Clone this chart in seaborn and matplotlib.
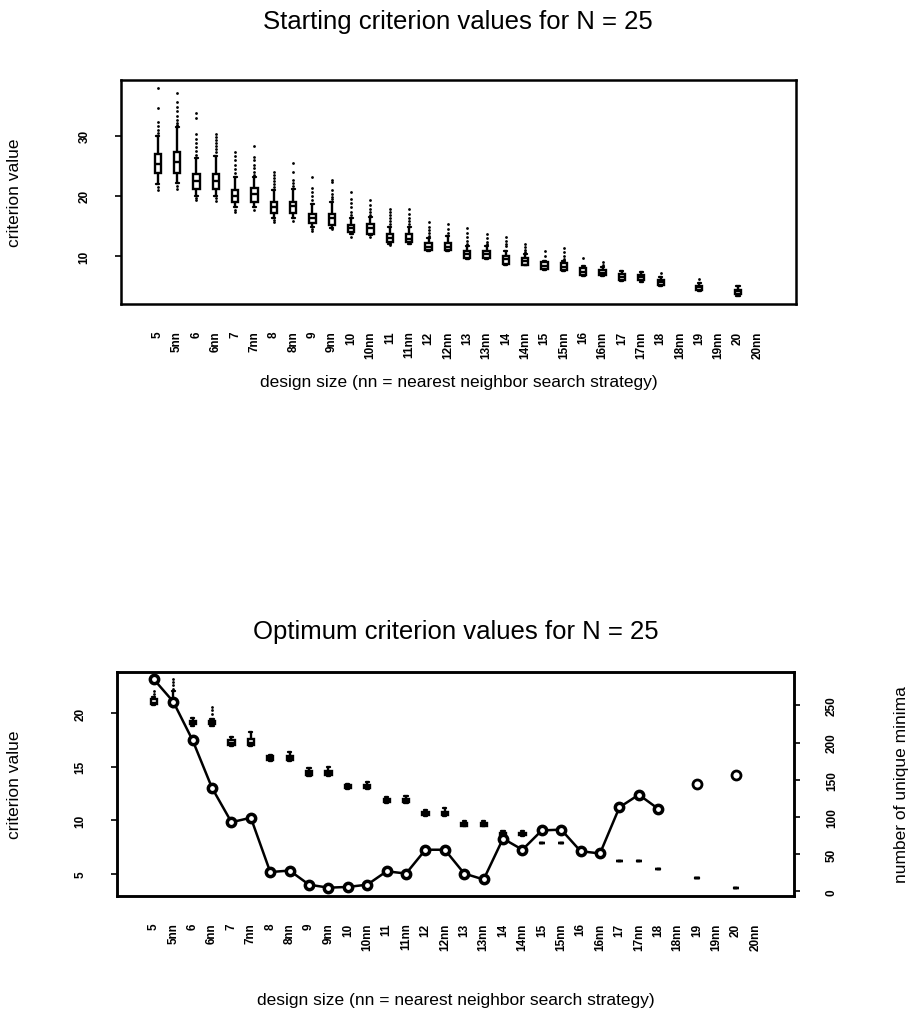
import matplotlib
matplotlib.use("Agg")
import matplotlib.pyplot as plt
import pandas as pd
import seaborn as sns

# x categories: design size, plain and nearest-neighbour ("nn") search
labels = ["5", "5nn", "6", "6nn", "7", "7nn", "8", "8nn", "9", "9nn",
          "10", "10nn", "11", "11nn", "12", "12nn", "13", "13nn", "14", "14nn",
          "15", "15nn", "16", "16nn", "17", "17nn", "18", "18nn", "19", "19nn",
          "20", "20nn"]

# ---- starting criterion values (five-number summaries + outliers)
start_cats = ["5", "5nn", "6", "6nn", "7", "7nn", "8", "8nn", "9", "9nn",
              "10", "10nn", "11", "11nn", "12", "12nn", "13", "13nn", "14", "14nn",
              "15", "15nn", "16", "16nn", "17", "17nn", "18", "19", "20"]
start_lo = [22.0, 22.2, 20.0, 20.05, 18.1, 18.1, 16.35, 16.3, 14.8, 14.7,
            13.7, 13.5, 12.0, 12.0, 10.8, 10.8, 9.6, 9.6, 8.6, 8.5,
            7.7, 7.6, 6.7, 6.7, 5.9, 5.8, 5.1, 4.3, 3.5]
start_q1 = [23.8, 23.8, 21.2, 21.2, 19.0, 19.05, 17.2, 17.2, 15.5, 15.2,
            14.0, 13.7, 12.3, 12.3, 11.0, 11.0, 9.8, 9.8, 8.8, 8.6,
            7.9, 7.8, 6.9, 6.9, 6.1, 6.0, 5.3, 4.5, 3.8]
start_med = [25.3, 25.6, 22.5, 22.5, 20.05, 20.3, 18.1, 18.3, 16.35, 16.3,
             14.7, 14.7, 13.0, 12.9, 11.6, 11.6, 10.4, 10.4, 9.5, 9.2,
             8.4, 8.3, 7.4, 7.3, 6.5, 6.5, 5.7, 4.85, 4.2]
start_q3 = [26.9, 27.2, 23.6, 23.7, 21.05, 21.3, 18.95, 19.05, 17.0, 17.0,
            15.2, 15.35, 13.7, 13.7, 12.2, 12.2, 10.9, 10.9, 10.1, 9.8,
            9.0, 8.9, 8.0, 7.7, 7.0, 6.9, 6.0, 5.1, 4.5]
start_hi = [30.0, 31.4, 26.3, 26.6, 23.1, 23.1, 20.9, 21.2, 18.7, 18.95,
            16.3, 16.5, 14.8, 14.8, 13.0, 13.3, 11.75, 11.75, 10.9, 10.4,
            9.3, 9.3, 8.35, 8.2, 7.6, 7.45, 6.5, 5.5, 5.1]
start_out = [
    [37.9, 34.5, 32.2, 31.6, 31.0, 30.5, 21.5, 21.0],
    [37.1, 35.5, 34.8, 34.0, 33.3, 32.6, 32.0, 31.8, 21.7, 21.2],
    [33.7, 32.9, 30.3, 29.5, 28.8, 28.1, 27.4, 26.8, 19.7, 19.4],
    [30.3, 29.8, 29.3, 28.8, 28.3, 27.8, 27.3, 19.6, 19.2],
    [27.3, 26.6, 25.9, 25.2, 24.5, 23.8, 17.7, 17.3],
    [28.2, 26.5, 25.9, 25.2, 24.6, 24.0, 23.5, 17.6],
    [23.9, 23.4, 22.9, 22.4, 21.9, 21.4, 16.0, 15.7],
    [25.4, 23.9, 22.7, 22.1, 21.6, 15.9],
    [23.1, 21.3, 20.6, 20.0, 19.4, 14.5, 14.25],
    [22.7, 22.3, 20.9, 20.4, 19.9, 19.5, 14.5],
    [20.6, 19.5, 18.8, 18.1, 17.4, 16.8, 13.15],
    [19.3, 18.5, 17.9, 17.3, 16.8, 13.15],
    [17.85, 17.4, 16.9, 16.4, 15.9, 15.4, 11.9],
    [17.85, 17.0, 16.3, 15.8, 15.35],
    [15.6, 14.9, 14.3, 13.8, 13.4],
    [15.35, 14.6, 13.9],
    [14.65, 13.9, 13.2, 12.5, 12.0],
    [13.7, 13.0, 12.3, 12.0],
    [13.15, 12.6, 12.1, 11.75],
    [12.0, 11.5, 11.0, 10.7],
    [10.9, 10.0],
    [11.3, 10.7, 10.1, 9.55],
    [9.7],
    [9.0, 8.6],
    [],
    [],
    [7.2],
    [6.25],
    [],
]

# ---- optimum criterion values (five-number summaries + outliers)
opt_cats = start_cats
opt_lo = [20.8, 20.6, 18.85, 18.8, 16.9, 16.9, 15.5, 15.5, 14.1, 14.1,
          12.9, 12.9, 11.6, 11.6, 10.4, 10.4, 9.45, 9.45, 8.5, 8.5,
          7.9, 7.9, 7.1, 6.9, 6.2, 6.2, 5.4, 4.6, 3.7]
opt_q1 = [20.9, 20.8, 18.95, 18.95, 17.0, 17.0, 15.6, 15.6, 14.2, 14.2,
          13.0, 13.0, 11.7, 11.7, 10.5, 10.5, 9.5, 9.5, 8.6, 8.6,
          7.9, 7.9, 7.1, 6.9, 6.2, 6.2, 5.4, 4.6, 3.7]
opt_med = [21.0, 21.0, 19.1, 19.1, 17.2, 17.2, 15.8, 15.8, 14.4, 14.4,
           13.1, 13.1, 11.9, 11.9, 10.6, 10.6, 9.6, 9.6, 8.7, 8.7,
           7.9, 7.9, 7.1, 6.9, 6.2, 6.2, 5.4, 4.6, 3.7]
opt_q3 = [21.3, 21.2, 19.3, 19.3, 17.5, 17.6, 16.0, 16.0, 14.6, 14.6,
          13.3, 13.3, 12.0, 12.0, 10.8, 10.8, 9.75, 9.75, 8.8, 8.8,
          7.9, 7.9, 7.1, 6.9, 6.2, 6.2, 5.4, 4.6, 3.7]
opt_hi = [21.5, 22.1, 19.55, 19.5, 17.8, 18.25, 16.1, 16.4, 14.9, 15.0,
          13.4, 13.6, 12.2, 12.25, 11.0, 11.1, 9.9, 9.95, 8.95, 9.0,
          7.9, 7.9, 7.1, 6.9, 6.2, 6.2, 5.4, 4.6, 3.7]
opt_out = [[22.1, 21.8], [23.2, 22.9, 22.6, 22.3], [], [20.6, 20.3, 19.95]] + [[]] * 25

# ---- number of unique minima (right axis)
minima_cats = ["5", "5nn", "6", "6nn", "7", "7nn", "8", "8nn", "9", "9nn",
               "10", "10nn", "11", "11nn", "12", "12nn", "13", "13nn", "14", "14nn",
               "15", "15nn", "16", "16nn", "17", "17nn", "18"]
minima_vals = [285, 255, 203, 139, 93, 99, 26, 28, 9, 5, 6, 9, 27, 24, 56, 56,
               24, 16, 71, 56, 82, 83, 54, 51, 113, 130, 111]
minima_iso_cats = ["19", "20"]
minima_iso_vals = [144, 157]


def box_frame(cats, lo, q1, med, q3, hi):
    rows = []
    for c, *vals in zip(cats, lo, q1, med, q3, hi):
        for v in vals:
            rows.append((c, v))
    return pd.DataFrame(rows, columns=["size", "value"])


def out_frame(cats, outs):
    rows = [(c, v) for c, vs in zip(cats, outs) for v in vs]
    return pd.DataFrame(rows, columns=["size", "value"])


sns.set_style("ticks")
plt.rcParams["font.family"] = ["Liberation Sans", "DejaVu Sans"]
plt.rcParams.update({"text.color": "black", "axes.labelcolor": "black",
                     "xtick.color": "black", "ytick.color": "black",
                     "axes.edgecolor": "black"})

fig = plt.figure(figsize=(9.09, 10.12), dpi=100)
ax1 = fig.add_axes([121 / 909, 1 - 305 / 1012, 675 / 909, 224 / 1012])
ax2 = fig.add_axes([117 / 909, 1 - 897 / 1012, 677 / 909, 224 / 1012])

box_kw = dict(order=labels, whis=(0, 100), width=0.32, color="white",
              linecolor="black", linewidth=1.7, fliersize=0)

# top panel
sns.boxplot(data=box_frame(start_cats, start_lo, start_q1, start_med, start_q3, start_hi),
            x="size", y="value", ax=ax1, **box_kw)
sns.stripplot(data=out_frame(start_cats, start_out), x="size", y="value", order=labels,
              jitter=False, color="black", size=2, ax=ax1)
ax1.set_ylim(2.1, 39.2)
ax1.set_yticks([10, 20, 30])

# bottom panel
sns.boxplot(data=box_frame(opt_cats, opt_lo, opt_q1, opt_med, opt_q3, opt_hi),
            x="size", y="value", ax=ax2, **box_kw)
sns.stripplot(data=out_frame(opt_cats, opt_out), x="size", y="value", order=labels,
              jitter=False, color="black", size=2, ax=ax2)
ax2.set_ylim(2.92, 23.85)
ax2.set_yticks([5, 10, 15, 20])

ax3 = ax2.twinx()
line_x = [labels.index(c) for c in minima_cats]
iso_x = [labels.index(c) for c in minima_iso_cats]
sns.lineplot(x=line_x, y=minima_vals, ax=ax3, color="black", linewidth=1.8,
             marker="o", markersize=6, markerfacecolor="white",
             markeredgecolor="black", markeredgewidth=2.5)
sns.scatterplot(x=iso_x, y=minima_iso_vals, ax=ax3, facecolor="white",
                edgecolor="black", linewidth=2, s=42, zorder=5)
ax3.set_ylim(-6.2, 294.9)
ax3.set_yticks([0, 50, 100, 150, 200, 250])

xlab = "design size (nn = nearest neighbor search strategy)"
for ax, xl_y, yl_x in ((ax1, -0.3125, -0.1467), (ax2, -0.4286, -0.1403)):
    ax.set_xlim(-1.9, 33.0)
    ax.set_xlabel(xlab, fontsize=12.5)
    ax.xaxis.set_label_coords(0.5, xl_y)
    ax.set_ylabel("criterion value", fontsize=12.5)
    ax.yaxis.set_label_coords(yl_x, 0.5)
    ax.tick_params(axis="x", length=0, pad=19, labelrotation=90, labelsize=8.5)
    ax.tick_params(axis="y", length=4, width=1.2, pad=18, labelrotation=90,
                   labelsize=8.5)
    for lab in ax.get_xticklabels() + ax.get_yticklabels():
        lab.set_fontweight("bold")
    for lab in ax.get_yticklabels():
        lab.set_va("center")

ax3.set_xlim(-1.9, 33.0)
ax3.set_ylabel("number of unique minima", fontsize=12.5)
ax3.yaxis.set_label_coords(1.148, 0.5)
ax3.tick_params(axis="y", length=4, width=1.2, pad=19, labelrotation=90,
                labelsize=8.5)
for lab in ax3.get_yticklabels():
    lab.set_fontweight("bold")
    lab.set_va("center")

for ax in (ax1, ax2, ax3):
    for sp in ax.spines.values():
        sp.set_linewidth(1.8)
        sp.set_color("black")

fig.text(458 / 909, 1 - 22 / 1012, "Starting criterion values for N = 25",
         ha="center", va="center", fontsize=18.5)
fig.text(456 / 909, 1 - 632 / 1012, "Optimum criterion values for N = 25",
         ha="center", va="center", fontsize=18.5)

fig.savefig("out.png", dpi=100)
